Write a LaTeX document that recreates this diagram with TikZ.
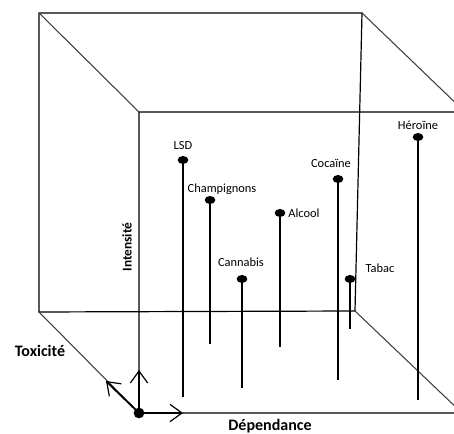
\documentclass[tikz,border=0pt]{standalone}
\usepackage{fontspec}
\setmainfont{Carlito}
\usetikzlibrary{arrows.meta,shapes.geometric}
\begin{document}
\begin{tikzpicture}[x=0.75pt,y=-0.75pt,
    edge/.style={line width=0.9pt},
    depth/.style={line width=0.8pt,black!75},
    axis/.style={line width=1.4pt,-{Straight Barb[length=9pt,width=13pt,line width=0.9pt]}},
    dot/.style={ellipse,fill,inner sep=0pt,minimum width=8pt,minimum height=6pt},
    stem/.style={line width=0.9pt},
    tag/.style={inner sep=0pt,font=\fontsize{9.3}{11}\selectfont},
    title/.style={inner sep=0pt,font=\bfseries\fontsize{12}{14}\selectfont},
  ]
\useasboundingbox (0,0) rectangle (454,434);
\clip (0,0) rectangle (454,434);
% back face
\coordinate (b1) at (39,13);
\coordinate (b2) at (362,13);
\coordinate (b3) at (355,311);
\coordinate (b4) at (39,312);
% front face
\coordinate (f1) at (139,112);
\coordinate (f2) at (465,112);
\coordinate (f3) at (462,413);
\coordinate (f4) at (139,413);
\draw[edge] (b1) -- (b2) -- (b3) -- (b4) -- cycle;
\draw[edge] (f1) -- (f2) -- (f3) -- (f4) -- cycle;
\draw[depth] (b1) -- (f1) (b2) -- (f2) (b3) -- (f3) (b4) -- (f4);
% axes
\node[circle,fill,inner sep=0pt,minimum size=8pt] (origin) at (f4) {};
\coordinate (up) at (139,370);
\coordinate (right) at (183,413);
\coordinate (diag) at (106,381);
\draw[axis] (origin.center) -- (up);
\draw[axis] (origin.center) -- (right);
\draw[axis] (origin.center) -- (diag);
\node[title] (tox) at (40,351) {Toxicité};
\node[title] (dep) at (270,426) {Dépendance};
\node[title,font=\bfseries\fontsize{10}{12}\selectfont,rotate=90] (int) at (127,247) {Intensité};
% drugs
\node[dot] (lsd) at (183,160) {};
\node[dot] (champ) at (210,200) {};
\node[dot] (cannabis) at (242,279) {};
\node[dot] (alcool) at (280,213) {};
\node[dot] (cocaine) at (338,179) {};
\node[dot] (tabac) at (350,279) {};
\node[dot] (heroine) at (418,137) {};
\coordinate (lsd0) at (183,397);
\coordinate (champ0) at (210,344);
\coordinate (cannabis0) at (242,388);
\coordinate (alcool0) at (280,347);
\coordinate (cocaine0) at (338,380);
\coordinate (tabac0) at (350,329);
\coordinate (heroine0) at (418,400);
\draw[stem] (lsd.center) -- (lsd0);
\draw[stem] (champ.center) -- (champ0);
\draw[stem] (cannabis.center) -- (cannabis0);
\draw[stem] (alcool.center) -- (alcool0);
\draw[stem] (cocaine.center) -- (cocaine0);
\draw[stem] (tabac.center) -- (tabac0);
\draw[stem] (heroine.center) -- (heroine0);
\node[tag] (lsdtxt) at (183,146) {LSD};
\node[tag] (champtxt) at (222,189) {Champignons};
\node[tag] (cannabistxt) at (241,262) {Cannabis};
\node[tag] (alcooltxt) at (304,213) {Alcool};
\node[tag] (cocainetxt) at (331,163) {Cocaïne};
\node[tag] (tabactxt) at (380,268) {Tabac};
\node[tag] (heroinetxt) at (418,125) {Héroïne};
\end{tikzpicture}
\end{document}
